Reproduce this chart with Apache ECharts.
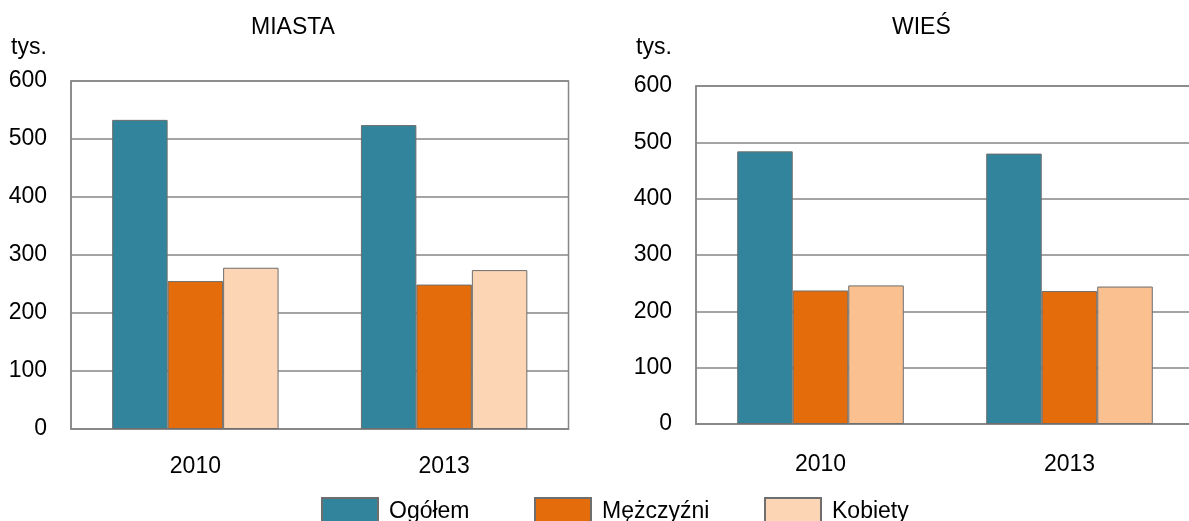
<!DOCTYPE html>
<html>
<head>
<meta charset="utf-8">
<title>Miasta / Wieś</title>
<script src="https://cdn.jsdelivr.net/npm/echarts@6/dist/echarts.min.js"></script>
<style>
  html, body { margin: 0; padding: 0; background: #fff; overflow: hidden; }
  #chart { width: 1200px; height: 521px; }
</style>
</head>
<body>
<div id="chart"></div>
<script>
// data (tys.)
const years = ["2010", "2013"];
const seriesNames = ["Ogółem", "Mężczyźni", "Kobiety"];
const miastaOgolem = [533, 524];
const miastaMezczyzni = [255, 249];
const miastaKobiety = [278, 274];
const wiesOgolem = [484, 480];
const wiesMezczyzni = [237, 236];
const wiesKobiety = [246, 244];
const yTicks = { min: 0, max: 600, interval: 100 };

const font = "Liberation Sans, Arial, sans-serif";
const fontSize = 23;
const gridColor = "#868686";
const barBorder = "#6e6e6e";

function makeBar(name, data, color, idx) {
  return {
    name: name,
    type: "bar",
    xAxisIndex: idx,
    yAxisIndex: idx,
    data: data,
    barWidth: "22.3%",
    barGap: "0%",
    itemStyle: { color: color, borderColor: barBorder, borderWidth: 1 },
    animation: false
  };
}

function xAxisOf(idx, margin) {
  return {
    type: "category",
    gridIndex: idx,
    data: years,
    axisTick: { show: false },
    axisLine: { lineStyle: { color: gridColor, width: 1.5 } },
    axisLabel: { color: "#000", fontSize: fontSize, fontFamily: font, margin: margin }
  };
}

function yAxisOf(idx) {
  return {
    type: "value",
    gridIndex: idx,
    min: yTicks.min,
    max: yTicks.max,
    interval: yTicks.interval,
    axisTick: { show: false },
    axisLine: { show: true, lineStyle: { color: gridColor, width: 1.5 } },
    splitLine: { lineStyle: { color: gridColor, width: 1.5 } },
    axisLabel: { color: "#000", fontSize: fontSize, fontFamily: font, margin: 24 }
  };
}

// one legend per item so each box sits where it does in the source
function legendItem(name, left) {
  return {
    data: [name],
    left: left,
    top: 497,
    padding: 0,
    itemWidth: 56,
    itemHeight: 28,
    icon: "rect",
    selectedMode: false,
    textStyle: { color: "#000", fontSize: fontSize, fontFamily: font, padding: [0, 0, 0, 6] }
  };
}

const chart = echarts.init(document.getElementById("chart"));
const titleStyle = { color: "#000", fontSize: fontSize, fontWeight: "normal", fontFamily: font };

chart.setOption({
  backgroundColor: "#fff",
  title: [
    { text: "MIASTA", left: 251, top: 16, padding: 0, textStyle: titleStyle },
    { text: "WIEŚ", left: 892, top: 16, padding: 0, textStyle: titleStyle },
    { text: "tys.", left: 11, top: 36, padding: 0, textStyle: titleStyle },
    { text: "tys.", left: 636, top: 36, padding: 0, textStyle: titleStyle }
  ],
  grid: [
    { left: 71, top: 81, width: 497.5, height: 348, show: true, borderColor: gridColor, borderWidth: 1.5 },
    { left: 696, top: 86, width: 498, height: 338, show: true, borderColor: gridColor, borderWidth: 1.5 }
  ],
  legend: [
    legendItem(seriesNames[0], 321),
    legendItem(seriesNames[1], 534),
    legendItem(seriesNames[2], 764)
  ],
  xAxis: [xAxisOf(0, 26), xAxisOf(1, 29)],
  yAxis: [yAxisOf(0), yAxisOf(1)],
  series: [
    makeBar(seriesNames[0], miastaOgolem, "#31849B", 0),
    makeBar(seriesNames[1], miastaMezczyzni, "#E46C0A", 0),
    makeBar(seriesNames[2], miastaKobiety, "#FCD5B5", 0),
    makeBar(seriesNames[0], wiesOgolem, "#31849B", 1),
    makeBar(seriesNames[1], wiesMezczyzni, "#E46C0A", 1),
    makeBar(seriesNames[2], wiesKobiety, "#FAC090", 1)
  ]
});
</script>
</body>
</html>
